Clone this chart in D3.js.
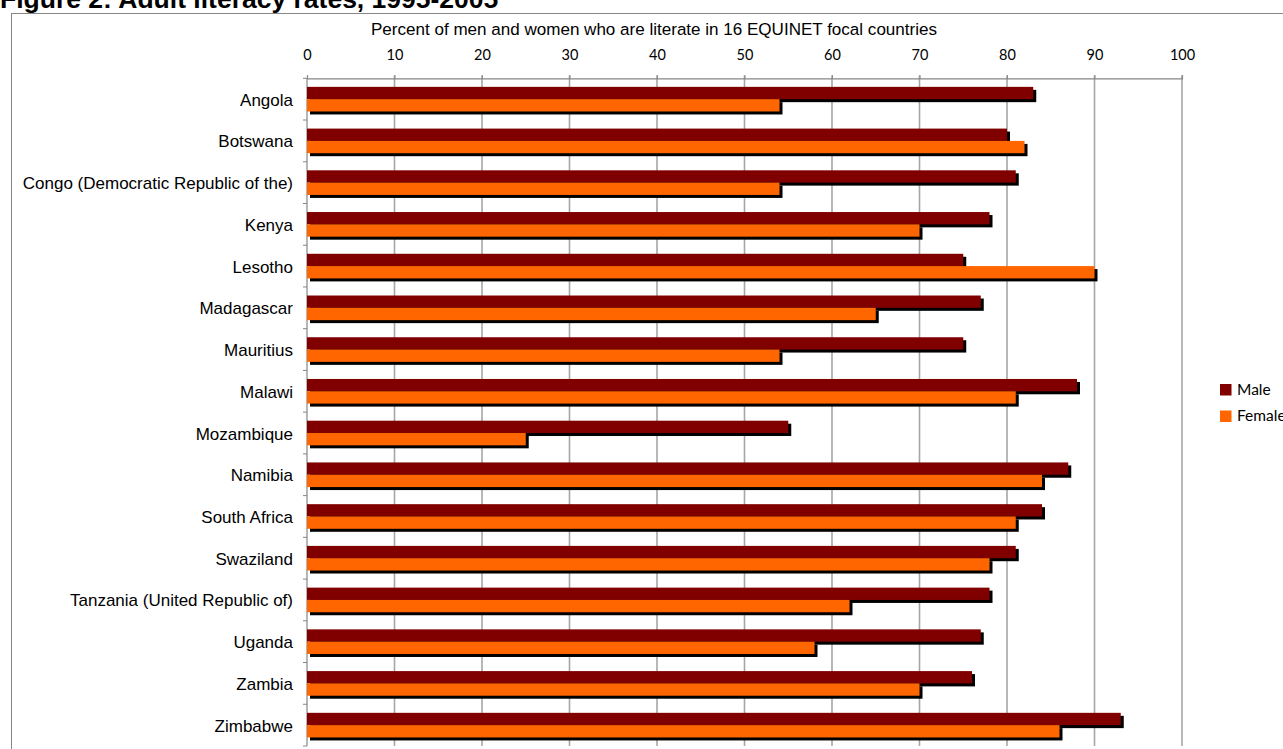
<!DOCTYPE html>
<html><head><meta charset="utf-8">
<script src="https://cdn.jsdelivr.net/npm/d3@7"></script>
<style>body{margin:0;background:#fff;overflow:hidden}svg{display:block}</style>
</head><body>
<script>
const countries = ["Angola","Botswana","Congo (Democratic Republic of the)","Kenya","Lesotho","Madagascar","Mauritius","Malawi","Mozambique","Namibia","South Africa","Swaziland","Tanzania (United Republic of)","Uganda","Zambia","Zimbabwe"];
const male   = [83,80,81,78,75,77,75,88,55,87,84,81,78,77,76,93];
const female = [54,82,54,70,90,65,54,81,25,84,81,78,62,58,70,86];
const seriesNames = ["Male","Female"];
const seriesColors = ["#800000","#ff6600"];
const xTicks = [0,10,20,30,40,50,60,70,80,90,100];
const titleText = "Figure 2: Adult literacy rates, 1995-2005";
const chartTitle = "Percent of men and women who are literate in 16 EQUINET focal countries";

const W = 1283, H = 749;
const svg = d3.select("body").append("svg").attr("width", W).attr("height", H);

const m = {left: 307, right: 1182, top: 78.3, bottom: 746};
const x = d3.scaleLinear().domain([0,100]).range([m.left, m.right]);
const y = d3.scaleBand().domain(countries).range([m.top, m.bottom]).paddingInner(0.41).paddingOuter(0.205);
const sub = d3.scaleBand().domain(seriesNames).range([0, y.bandwidth()]);

// figure title
svg.append("text").attr("x", 0).attr("y", 8).attr("font-family", "Liberation Sans, Arial, sans-serif")
  .attr("font-weight", "bold").attr("font-size", 26.5).text(titleText);

// frame
svg.append("rect").attr("x", 11.5).attr("y", 13.5).attr("width", 1300).attr("height", 800)
  .attr("fill", "none").attr("stroke", "#868686").attr("stroke-width", 1);

// chart title
svg.append("text").attr("x", 654).attr("y", 34.5).attr("text-anchor", "middle")
  .attr("font-family", "Liberation Sans, Arial, sans-serif").attr("font-size", 16.8)
  .attr("textLength", 566).attr("lengthAdjust", "spacingAndGlyphs").text(chartTitle);

// gridlines
svg.append("g").selectAll("line").data(xTicks.slice(1)).join("line")
  .attr("x1", d => x(d)).attr("x2", d => x(d)).attr("y1", m.top - 3).attr("y2", m.bottom)
  .attr("stroke", "#a6a6a6").attr("stroke-width", 1.6);

// top axis
const xAxis = d3.axisTop(x).tickValues(xTicks).tickSize(3).tickPadding(15);
const gx = svg.append("g").attr("transform", `translate(0,${m.top})`).call(xAxis);
gx.select(".domain").attr("stroke", "#868686").attr("stroke-width", 1.2);
gx.selectAll(".tick line").attr("stroke", "#868686");
gx.selectAll(".tick text").attr("font-family", "Lato, 'Open Sans', sans-serif").attr("font-size", 14.5).attr("fill", "#000");

// left axis
svg.append("line").attr("x1", m.left).attr("x2", m.left).attr("y1", m.top).attr("y2", m.bottom)
  .attr("stroke", "#868686").attr("stroke-width", 1.2);
const step = (m.bottom - m.top) / countries.length;
svg.append("g").selectAll("line").data(d3.range(countries.length + 1)).join("line")
  .attr("x1", m.left - 4).attr("x2", m.left).attr("y1", i => m.top + i * step).attr("y2", i => m.top + i * step)
  .attr("stroke", "#868686");
svg.append("g").selectAll("text").data(countries).join("text")
  .attr("x", 293).attr("y", d => y(d) + y.bandwidth() / 2 + 6.5).attr("text-anchor", "end")
  .attr("font-family", "Liberation Sans, Arial, sans-serif").attr("font-size", 17).text(d => d);

// data rows
const rows = countries.map((c, i) => ({c, vals: [male[i], female[i]]}));
const flat = [];
rows.forEach(r => r.vals.forEach((v, k) => flat.push({c: r.c, s: seriesNames[k], v, k})));

// shadows
svg.append("g").selectAll("rect").data(flat).join("rect")
  .attr("x", x(0) + 3).attr("y", d => y(d.c) + sub(d.s) + 3)
  .attr("width", d => x(d.v) - x(0)).attr("height", sub.bandwidth()).attr("fill", "#000");
// bars
svg.append("g").selectAll("rect").data(flat).join("rect")
  .attr("x", x(0)).attr("y", d => y(d.c) + sub(d.s))
  .attr("width", d => x(d.v) - x(0)).attr("height", sub.bandwidth()).attr("fill", d => seriesColors[d.k]);

// legend
const lg = svg.append("g").selectAll("g").data(seriesNames).join("g")
  .attr("transform", (d, i) => `translate(1220,${384 + i * 26.5})`);
lg.append("rect").attr("width", 11.5).attr("height", 11.5).attr("fill", (d, i) => seriesColors[i]);
lg.append("text").attr("x", 17).attr("y", 10.5).attr("font-family", "Lato, 'Open Sans', sans-serif")
  .attr("font-size", 15.5).text(d => d);
</script>
</body></html>
